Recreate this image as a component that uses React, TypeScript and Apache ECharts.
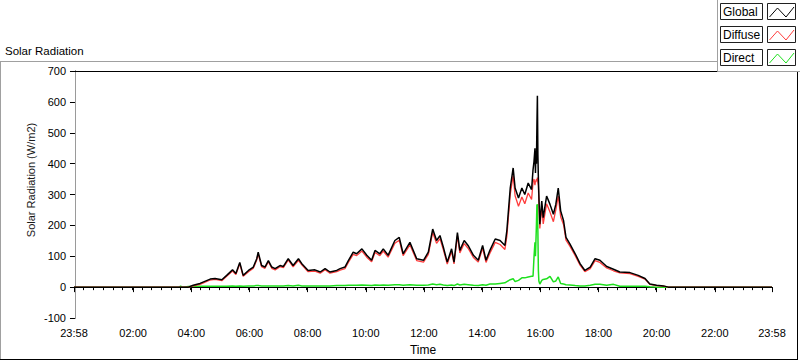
import React, { useEffect, useRef } from "react";
import * as echarts from "echarts";

// time in minutes from midnight (-2 = 23:58 of previous day)
const times = [
  -2, 215, 218, 222, 234, 244, 258, 279, 289, 303, 313, 325, 332, 340, 347, 358, 368, 375, 378, 385,
  392, 399, 406, 413, 423, 430, 440, 450, 461, 468, 481, 495, 506, 516, 526, 540, 547, 557, 564, 574,
  581, 592, 602, 612, 619, 629, 636, 646, 660, 669, 677, 691, 705, 719, 729, 738, 746, 753, 760, 768,
  777, 782, 789, 794, 803, 811, 822, 832, 841, 848, 856, 867, 877, 887, 891, 898, 904, 908, 915, 922,
  928, 935, 942, 945, 947, 949, 950, 951, 952, 953, 954, 955, 956, 957, 959, 963, 966, 973, 980, 987,
  992, 997, 1002, 1008, 1013, 1021, 1032, 1042, 1052, 1063, 1073, 1083, 1097, 1111, 1124, 1145, 1162, 1176, 1186, 1200,
  1214, 1224, 1438,
];

const globalVals = [
  0, 0, 0, 0, 0, 6, 12, 26, 28, 24, 38, 56, 44, 80, 38, 54, 65, 92, 113, 70,
  65, 86, 65, 60, 70, 67, 92, 70, 92, 76, 54, 56, 49, 60, 49, 54, 60, 65, 86, 113,
  108, 124, 103, 87, 119, 108, 124, 103, 151, 161, 108, 145, 92, 87, 113, 188, 151, 167, 129, 81,
  124, 81, 177, 119, 151, 135, 103, 87, 135, 87, 119, 156, 151, 135, 183, 321, 386, 321, 289, 321,
  300, 337, 316, 380, 407, 450, 370, 440, 400, 520, 620, 430, 353, 300, 204, 279, 225, 295, 268, 236,
  268, 321, 247, 215, 161, 140, 108, 76, 54, 65, 92, 87, 67, 58, 49, 47, 38, 28, 10, 6,
  4, 0, 0,
];

const diffuseVals = [
  0, 0, 0, 0, 0, 4, 9, 23, 25, 21, 35, 52, 41, 76, 35, 50, 61, 88, 108, 66,
  61, 82, 61, 56, 66, 63, 88, 66, 87, 72, 50, 52, 45, 56, 45, 50, 55, 60, 80, 106,
  102, 117, 97, 82, 112, 102, 117, 97, 142, 152, 102, 137, 86, 81, 106, 177, 142, 157, 121, 75,
  116, 75, 166, 111, 141, 126, 96, 81, 126, 80, 110, 145, 138, 122, 165, 300, 362, 296, 262, 292,
  270, 305, 284, 340, 350, 330, 345, 340, 350, 345, 355, 340, 330, 280, 190, 260, 205, 270, 243, 212,
  250, 295, 228, 202, 152, 133, 102, 71, 50, 60, 86, 80, 62, 53, 46, 44, 35, 26, 9, 5,
  3, 0, 0,
];

const directVals = [
  0, 0, 3, 0, 2, 3, 3, 3, 3, 3, 3, 4, 3, 4, 3, 4, 4, 5, 5, 4,
  4, 4, 4, 4, 4, 4, 5, 4, 6, 4, 4, 4, 4, 4, 4, 5, 5, 5, 6, 6,
  6, 7, 6, 5, 7, 6, 7, 6, 8, 8, 6, 8, 6, 6, 7, 10, 8, 9, 7, 5,
  7, 5, 10, 7, 9, 8, 6, 5, 8, 6, 10, 10, 12, 14, 18, 24, 27, 18, 22, 30,
  30, 33, 35, 35, 97, 145, 100, 150, 200, 265, 268, 180, 55, 20, 10, 22, 25, 27, 35, 17,
  20, 33, 12, 10, 8, 7, 5, 4, 4, 6, 9, 9, 6, 9, 3, 3, 3, 3, 1, 0,
  0, 0, 0,
];

const majorTicks = [-2, 120, 240, 360, 480, 600, 720, 840, 960, 1080, 1200, 1320, 1438];
const yTicks = ["-100", "0", "100", "200", "300", "400", "500", "600", "700"];

const seriesNames = ["Global", "Diffuse", "Direct"];
const seriesColors = ["#000000", "#ff3c3c", "#1ee01e"];

const FONT = '"Liberation Sans", Arial, sans-serif';

function fmt(m: number): string {
  let v = Math.round(m);
  if (v < 0) v += 1440;
  const h = Math.floor(v / 60);
  const mm = v % 60;
  return String(h).padStart(2, "0") + ":" + String(mm).padStart(2, "0");
}

export default function App() {
  const ref = useRef<HTMLDivElement>(null);
  useEffect(() => {
    if (!ref.current) return;
    const chart = echarts.init(ref.current, undefined, { renderer: "svg" });
    const minorTicks: number[] = [];
    for (let v = -2; v <= 1438; v += 20) minorTicks.push(v);

    const mk = (vals: number[]) => times.map((t, i) => [t, vals[i]]);

    const legendEls: any[] = [];
    seriesNames.forEach((name, i) => {
      const y0 = 3.5 + i * 23;
      legendEls.push(
        {
          type: "rect",
          shape: { x: 720.5, y: y0, width: 42, height: 16 },
          style: { fill: "#ffffff", stroke: "#202020", lineWidth: 1 },
          z: 101,
        },
        {
          type: "text",
          x: 723,
          y: y0 + 8,
          style: {
            text: name,
            fill: "#000",
            fontSize: 12,
            fontFamily: FONT,
            align: "left",
            verticalAlign: "middle",
          },
          z: 102,
        },
        {
          type: "rect",
          shape: { x: 767.5, y: y0, width: 28, height: 16 },
          style: { fill: "#ffffff", stroke: "#202020", lineWidth: 1 },
          z: 101,
        },
        {
          type: "polyline",
          shape: {
            points: [
              [769.5, y0 + 13.5],
              [777.5, y0 + 4.5],
              [786, y0 + 13.5],
              [794, y0 + 3.5],
            ],
          },
          style: { stroke: seriesColors[i], lineWidth: 1, fill: "none" },
          z: 102,
        }
      );
    });

    chart.setOption({
      animation: false,
      backgroundColor: "#ffffff",
      grid: { left: 74, right: 28, top: 71, bottom: 40, containLabel: false },
      xAxis: [
        {
          type: "value",
          min: -2,
          max: 1438,
          position: "bottom",
          name: "Time",
          nameLocation: "middle",
          nameGap: 26,
          nameTextStyle: { color: "#000", fontSize: 12, fontFamily: FONT },
          axisLine: { show: true, lineStyle: { color: "#000", width: 1 } },
          axisTick: {
            show: true,
            customValues: majorTicks,
            length: 5,
            inside: false,
            lineStyle: { color: "#000", width: 1 },
          },
          axisLabel: {
            show: true,
            customValues: majorTicks,
            formatter: (v: number) => fmt(v),
            color: "#000",
            fontSize: 11,
            fontFamily: FONT,
            margin: 9,
          },
          splitLine: { show: false },
        },
        {
          type: "value",
          min: -2,
          max: 1438,
          position: "bottom",
          axisLine: { show: false },
          axisTick: {
            show: true,
            customValues: minorTicks,
            length: 3,
            inside: false,
            lineStyle: { color: "#000", width: 1 },
          },
          axisLabel: { show: false },
          splitLine: { show: false },
        },
        {
          type: "value",
          min: -2,
          max: 1438,
          position: "top",
          axisLine: { show: true, lineStyle: { color: "#000", width: 1 } },
          axisTick: { show: false },
          axisLabel: { show: false },
          splitLine: { show: false },
        },
      ],
      yAxis: [
        {
          type: "value",
          min: -100,
          max: 700,
          interval: 100,
          position: "left",
          axisLine: { show: true, lineStyle: { color: "#000", width: 1 } },
          axisTick: { show: true, length: 5, inside: false, lineStyle: { color: "#000" } },
          axisLabel: {
            color: "#000",
            fontSize: 11,
            fontFamily: FONT,
            margin: 8,
            formatter: (v: number) => yTicks[Math.round((v + 100) / 100)] ?? String(v),
          },
          splitLine: { show: false },
        },
        {
          type: "value",
          min: -100,
          max: 700,
          interval: 100,
          position: "right",
          axisLine: { show: true, lineStyle: { color: "#9a9a9a", width: 1 } },
          axisTick: { show: false },
          axisLabel: { show: false },
          splitLine: { show: false },
        },
      ],
      series: [
        {
          name: "Direct",
          type: "line",
          data: mk(directVals),
          symbol: "none",
          lineStyle: { color: seriesColors[2], width: 1.5 },
          itemStyle: { color: seriesColors[2] },
        },
        {
          name: "Diffuse",
          type: "line",
          data: mk(diffuseVals),
          symbol: "none",
          lineStyle: { color: seriesColors[1], width: 1.3 },
          itemStyle: { color: seriesColors[1] },
        },
        {
          name: "Global",
          type: "line",
          data: mk(globalVals),
          symbol: "none",
          lineStyle: { color: seriesColors[0], width: 1.5 },
          itemStyle: { color: seriesColors[0] },
        },
      ],
      graphic: [
        {
          type: "text",
          x: 5,
          y: 51,
          style: {
            text: "Solar Radiation",
            fill: "#000",
            fontSize: 11.5,
            fontFamily: FONT,
            align: "left",
            verticalAlign: "middle",
          },
        },
        {
          type: "text",
          x: 31,
          y: 180,
          rotation: Math.PI / 2,
          style: {
            text: "Solar Radiation (W/m2)",
            fill: "#1a1a1a",
            fontSize: 11,
            fontFamily: FONT,
            align: "center",
            verticalAlign: "middle",
          },
        },
        // outer frame
        { type: "line", shape: { x1: 0, y1: 61.5, x2: 718, y2: 61.5 }, style: { stroke: "#a0a0a0", lineWidth: 1 }, z: 100 },
        { type: "line", shape: { x1: 0.5, y1: 61.5, x2: 0.5, y2: 360 }, style: { stroke: "#a0a0a0", lineWidth: 1 }, z: 100 },
        { type: "line", shape: { x1: 0, y1: 359.5, x2: 798, y2: 359.5 }, style: { stroke: "#000", lineWidth: 1 }, z: 100 },
        { type: "line", shape: { x1: 797.5, y1: 72, x2: 797.5, y2: 360 }, style: { stroke: "#000", lineWidth: 1 }, z: 100 },
        // legend panel
        { type: "rect", shape: { x: 717.5, y: -1, width: 84, height: 72.5 }, style: { fill: "#ffffff", stroke: "#a0a0a0", lineWidth: 1 }, z: 100 },
        ...legendEls,
      ],
    });
    return () => chart.dispose();
  }, []);
  return (
    <div
      ref={ref}
      style={{ position: "fixed", left: 0, top: 0, width: 800, height: 361, background: "#fff" }}
    />
  );
}
